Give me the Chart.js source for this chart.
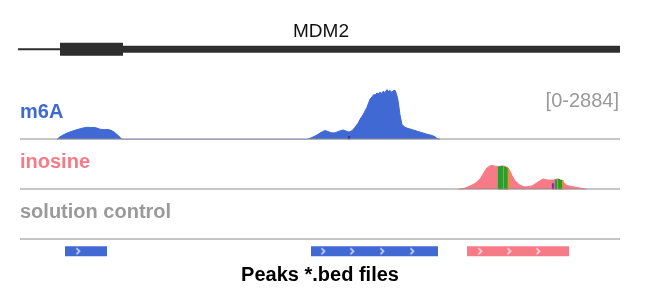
<!DOCTYPE html>
<html>
<head>
<meta charset="utf-8">
<title>MDM2 tracks</title>
<script src="https://cdn.jsdelivr.net/npm/chart.js@4.4.0/dist/chart.umd.min.js"></script>
<style>
  body { margin: 0; background: #fff; }
  #wrap { width: 647px; height: 306px; }
</style>
</head>
<body>
<div id="wrap"><canvas id="tracks"></canvas></div>
<script>
// ===== DATA =====
// positions are relative to the left edge of the browser window (0..600)
const windowStart = 0
const windowEnd = 600
const trackMax = 2884
const geneName = 'MDM2'
const rangeLabel = '[0-' + trackMax + ']'
const trackNames = ['m6A', 'inosine', 'solution control']

// gene model segments [start, end]
const geneUtr = [-2, 40]
const geneCds = [40, 103]
const geneBody = [103, 600]

// m6A coverage
const m6aPos = [37, 40, 43, 46, 50, 54, 58, 62, 65, 68, 71, 74, 77, 80, 84, 88, 91, 94, 97, 100, 102,
  287, 292, 297, 301, 305, 308, 312, 315, 319, 323, 326, 329, 332, 335, 338, 341, 343, 345, 347, 350,
  352, 354, 355, 357, 358, 360, 362, 363, 365, 367, 368, 370, 372, 373, 375, 376, 377, 378, 380, 382,
  385, 387, 391, 395, 399, 403, 407, 412, 415, 417, 420]
const m6aVal = [0, 150, 250, 340, 430, 510, 580, 640, 680, 700, 680, 690, 650, 590, 560, 570, 520, 430, 280, 120, 0,
  0, 110, 250, 400, 510, 450, 370, 380, 470, 540, 480, 420, 500, 700, 930, 1250, 1410, 1640, 1860, 2320,
  2450, 2600, 2540, 2680, 2600, 2720, 2650, 2770, 2700, 2880, 2760, 2820, 2710, 2800, 2830, 2700, 2500, 2260, 1410, 850,
  700, 650, 580, 510, 440, 370, 300, 226, 150, 57, 0]
const m6aMisPos = [329]
const m6aMisVal = [170]

// inosine coverage
const inoPos = [438, 444, 450, 455, 460, 463, 465, 467, 470, 472, 475, 477, 480, 482, 485, 488, 490, 492, 495, 500, 505,
  512, 518, 523, 528, 533, 538, 542, 547, 553, 562, 567]
const inoVal = [0, 60, 200, 340, 600, 880, 1080, 1240, 1356, 1384, 1340, 1328, 1328, 1356, 1320, 1250, 1050, 800, 500, 240, 141,
  198, 424, 605, 537, 537, 605, 480, 226, 153, 57, 0]
// mismatch (A-to-G) colouring inside the inosine coverage
const inoGreenPos = [479, 480.5, 482, 485, 486.5, 536, 539, 541]
const inoGreenVal = [1300, 1320, 1330, 1290, 1240, 560, 580, 540]
const inoOrangePos = [483.5, 488, 537.5, 542.5]
const inoOrangeVal = [1340, 1200, 600, 520]
const inoPurplePos = [533]
const inoPurpleVal = [330]

// peaks *.bed files [start, end]
const m6aPeaks = [[45, 87], [291, 418]]
const inoPeaks = [[447, 549]]
const strandMarks = [58, 303, 332, 362, 392, 460, 489, 518]

// ===== STYLE =====
const blue = '#4169d4'
const pink = '#f67b86'
const grey = '#8e8e8e'
const geneColor = '#2e2e2e'
Chart.defaults.font.family = '"Liberation Sans", Arial, sans-serif'

const xy = (xs, ys) => xs.map((x, i) => ({x: x, y: ys[i]}))
const seg = (r) => [{x: r[0], y: 0}, {x: r[1], y: 0}]

// white ">" strand marker
const chevron = document.createElement('canvas')
chevron.width = 7
chevron.height = 9
const cc = chevron.getContext('2d')
cc.strokeStyle = 'rgba(255,255,255,0.9)'
cc.lineWidth = 1.3
cc.beginPath()
cc.moveTo(2, 1.5)
cc.lineTo(5, 4.5)
cc.lineTo(2, 7.5)
cc.stroke()

const flat = (color, width, yAxisID, data, clip) => ({
    type: 'line', data: data, yAxisID: yAxisID, borderColor: color, borderWidth: width,
    borderCapStyle: 'butt', pointRadius: 0, fill: false, clip: clip
})
const mis = (pos, val, color, yAxisID) => ({
    type: 'bar', data: xy(pos, val), yAxisID: yAxisID, backgroundColor: color,
    barThickness: 1.6, grouped: false
})

// first dataset is drawn on top
const datasets = [
    // bed strand marks
    {type: 'scatter', data: strandMarks.map(x => ({x: x, y: 0})), yAxisID: 'bed', pointStyle: chevron, pointRadius: 3},
    // track separators
    flat(grey, 2, 'm6a', seg([windowStart, windowEnd])),
    flat(grey, 2, 'ino', seg([windowStart, windowEnd])),
    flat(grey, 2, 'ctrl', seg([windowStart, windowEnd])),
    // gene model
    flat(geneColor, 2, 'gene', seg(geneUtr), false),
    flat(geneColor, 13, 'gene', seg(geneCds)),
    flat(geneColor, 7, 'gene', seg(geneBody)),
    // mismatches
    mis(m6aMisPos, m6aMisVal, '#2a3aa8', 'm6a'),
    mis(inoGreenPos, inoGreenVal, '#2f9a2f', 'ino'),
    mis(inoOrangePos, inoOrangeVal, '#d99a2b', 'ino'),
    mis(inoPurplePos, inoPurpleVal, '#8a2bb8', 'ino'),
    // coverage
    {type: 'line', data: xy(m6aPos, m6aVal), yAxisID: 'm6a', borderColor: blue, backgroundColor: blue,
        borderWidth: 1, pointRadius: 0, fill: 'origin'},
    {type: 'line', data: xy(inoPos, inoVal), yAxisID: 'ino', borderColor: pink, backgroundColor: pink,
        borderWidth: 1, pointRadius: 0, fill: 'origin'}
]
m6aPeaks.forEach(p => datasets.push(flat(blue, 10, 'bed', seg(p))))
inoPeaks.forEach(p => datasets.push(flat(pink, 10, 'bed', seg(p))))

const track = (weight, min, max) => ({
    type: 'linear', position: 'right', stack: 'tracks', stackWeight: weight,
    min: min, max: max, display: false
})

// ===== LABELS =====
const trackLabels = {
    id: 'trackLabels',
    afterDatasetsDraw(chart) {
        const {ctx, chartArea, scales} = chart
        ctx.save()
        ctx.textBaseline = 'alphabetic'
        ctx.textAlign = 'center'
        ctx.fillStyle = '#111'
        ctx.font = '19px "Liberation Sans", Arial, sans-serif'
        ctx.fillText(geneName, (chartArea.left + chartArea.right) / 2 + 1, scales.gene.top + 32)

        ctx.textAlign = 'right'
        ctx.fillStyle = '#999'
        ctx.font = '20px "Liberation Sans", Arial, sans-serif'
        ctx.fillText(rangeLabel, chartArea.right - 1, scales.m6a.bottom - 32)

        ctx.textAlign = 'left'
        ctx.font = 'bold 20px "Liberation Sans", Arial, sans-serif'
        const colors = [blue, pink, '#9a9a9a']
        ;['m6a', 'ino', 'ctrl'].forEach((id, i) => {
            ctx.fillStyle = colors[i]
            ctx.fillText(trackNames[i], chartArea.left, scales[id].bottom - 21)
        })
        ctx.restore()
    }
}

new Chart(document.querySelector('#tracks'), {
    type: 'line',
    data: {datasets: datasets},
    options: {
        responsive: true,
        maintainAspectRatio: false,
        animation: false,
        layout: {padding: {left: 20, right: 27, top: 0, bottom: 0}},
        scales: {
            x: {type: 'linear', min: windowStart, max: windowEnd, offset: false, display: false},
            gene: track(86, -1, 1.1),
            m6a: track(51, 0, trackMax),
            ino: track(51, 0, trackMax),
            ctrl: track(51, 0, trackMax),
            bed: track(24, -1, 1)
        },
        plugins: {
            legend: {display: false},
            tooltip: {enabled: false},
            title: {
                display: true,
                position: 'bottom',
                text: 'Peaks *.bed files',
                color: '#000',
                font: {size: 20, weight: 'bold'},
                padding: {top: 0, bottom: 19}
            }
        }
    },
    plugins: [trackLabels]
})
</script>
</body>
</html>
